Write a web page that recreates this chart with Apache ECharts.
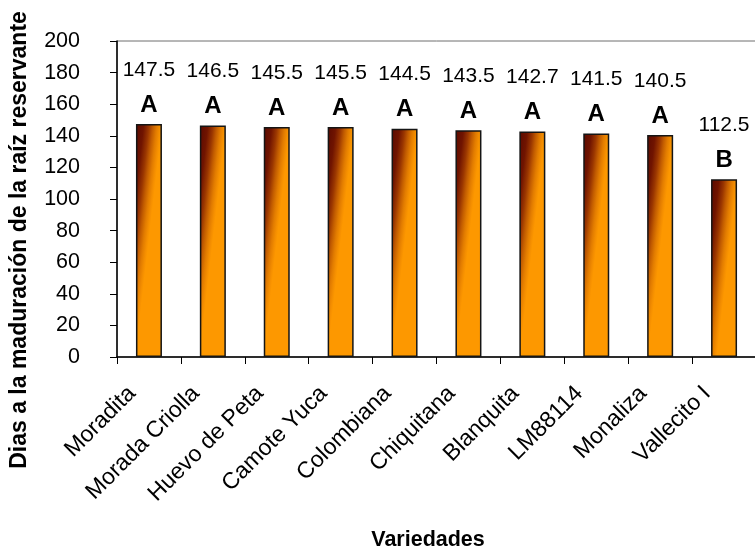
<!DOCTYPE html>
<html>
<head>
<meta charset="utf-8">
<script src="https://cdn.jsdelivr.net/npm/echarts@6/dist/echarts.min.js"></script>
<style>
  html, body { margin: 0; padding: 0; background: #ffffff; }
  #chart { width: 755px; height: 550px; }
</style>
</head>
<body>
<div id="chart"></div>
<script>
// Days to storage-root maturity per sweet potato variety
const varieties = ['Moradita', 'Morada Criolla', 'Huevo de Peta', 'Camote Yuca', 'Colombiana',
                   'Chiquitana', 'Blanquita', 'LM88114', 'Monaliza', 'Vallecito I'];
const days = [147.5, 146.5, 145.5, 145.5, 144.5, 143.5, 142.7, 141.5, 140.5, 112.5];
// Mean-separation letters
const groups = ['A', 'A', 'A', 'A', 'A', 'A', 'A', 'A', 'A', 'B'];
// Value axis range
const yMin = 0;
const yMax = 200;
const yStep = 20;

const FONT = '"Liberation Sans", Arial, sans-serif';
const BAR_W = 26;

// Brown-to-orange ramp: dark at the top-left, fading to orange down the bar
const fillStops = [
  { offset: 0.00, color: '#5a0a00' },
  { offset: 0.30, color: '#701400' },
  { offset: 0.50, color: '#9a3600' },
  { offset: 0.65, color: '#c25c00' },
  { offset: 0.80, color: '#e27c00' },
  { offset: 0.92, color: '#f48e00' },
  { offset: 1.00, color: '#fd9800' }
];

const chart = echarts.init(document.getElementById('chart'), null, { renderer: 'canvas' });

chart.setOption({
  animation: false,
  backgroundColor: '#ffffff',
  grid: {
    left: 117, right: -1, top: 41, bottom: 193,
    outerBoundsMode: 'none',
    show: true, borderColor: '#6e6e6e', borderWidth: 1, backgroundColor: 'transparent'
  },
  xAxis: {
    type: 'category',
    data: varieties,
    axisLine: { lineStyle: { color: '#000', width: 1.5 } },
    axisTick: { show: true, length: 7, lineStyle: { color: '#000', width: 1 } },
    axisLabel: {
      rotate: 45, interval: 0, margin: 16,
      fontFamily: FONT, fontSize: 23, color: '#000',
      padding: [0, 24, 0, 0]
    }
  },
  yAxis: {
    type: 'value',
    min: yMin, max: yMax, interval: yStep,
    splitLine: { show: false },
    axisLine: { show: true, lineStyle: { color: '#000', width: 1.5 } },
    axisTick: { show: true, length: 7, lineStyle: { color: '#000', width: 1 } },
    axisLabel: {
      margin: 8, fontFamily: FONT, fontSize: 21.5, color: '#000',
      padding: [0, 29, 0, 0]
    }
  },
  series: [{
    type: 'bar',
    data: days,
    barWidth: BAR_W,
    itemStyle: { color: '#f08a00', borderColor: '#151515', borderWidth: 1.5 },
    label: {
      show: true,
      position: 'top',
      distance: 4,
      formatter: p => '{v|' + days[p.dataIndex].toFixed(1) + '}\n{g|' + groups[p.dataIndex] + '}',
      rich: {
        v: { fontFamily: FONT, fontSize: 21, color: '#000', lineHeight: 40 },
        g: { fontFamily: FONT, fontSize: 24, fontWeight: 'bold', color: '#000', lineHeight: 30 }
      }
    }
  }],
  graphic: [
    {
      type: 'text', x: 20, y: 240, rotation: Math.PI / 2,
      style: {
        text: 'Dias a la maduración de la raíz reservante',
        fontFamily: FONT, fontSize: 23, fontWeight: 'bold', fill: '#000',
        align: 'center', verticalAlign: 'middle'
      }
    },
    {
      type: 'text', x: 428, y: 540,
      style: {
        text: 'Variedades',
        fontFamily: FONT, fontSize: 21.5, fontWeight: 'bold', fill: '#000',
        align: 'center', verticalAlign: 'middle'
      }
    }
  ]
});

// Anchor each bar's gradient at its own top edge in screen space so the
// shading runs across the bar at the top and fades out gently downwards.
const shadedBars = days.map((v, i) => {
  const [cx, yTop] = chart.convertToPixel({ gridIndex: 0 }, [i, v]);
  const grad = new echarts.graphic.LinearGradient(
    cx - BAR_W / 2, yTop, cx + BAR_W / 2, yTop + 3.0, fillStops, true
  );
  return { value: v, itemStyle: { color: grad } };
});
chart.setOption({ series: [{ data: shadedBars }] });
</script>
</body>
</html>
